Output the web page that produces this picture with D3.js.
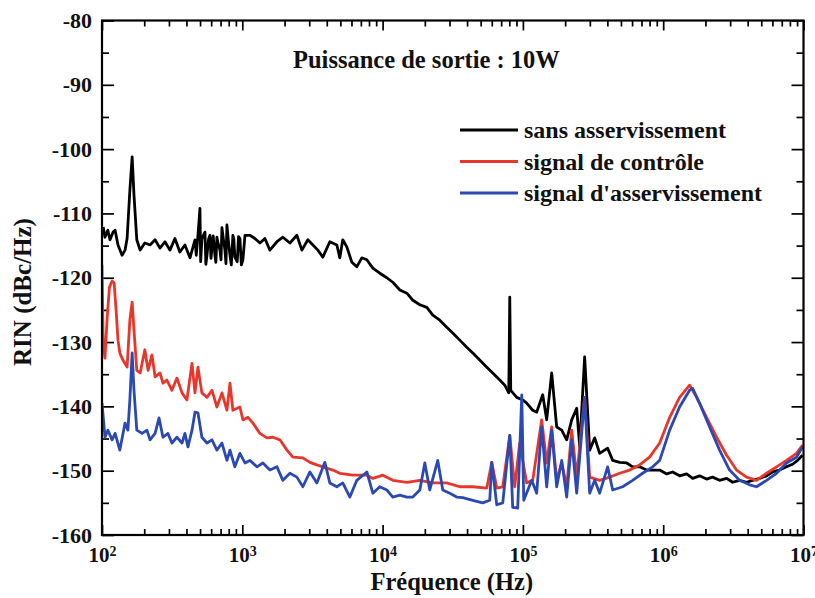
<!DOCTYPE html>
<html>
<head>
<meta charset="utf-8">
<script src="https://cdn.jsdelivr.net/npm/d3@7"></script>
<style>
  body { margin: 0; background: #fff; }
  svg text { font-family: "Liberation Serif", "Times New Roman", serif; font-weight: bold; fill: #111; }
</style>
</head>
<body>
<div id="chart-container"></div>
<script>
// Data: [frequency (Hz), RIN (dBc/Hz)]
const sansAsservissement = [
  [102,-112.1],[105,-113.7],[110,-112.6],[114,-114.1],[120,-112.9],[124,-112.6],[130,-114.9],[139,-116.5],
  [146,-115.7],[151,-113.9],[158,-106.4],[164,-101.2],[169,-107.1],[177,-114.1],[187,-115.7],[202,-114.6],
  [220,-114.9],[239,-114.1],[259,-115.4],[281,-114.4],[305,-115.7],[331,-113.9],[359,-116.0],[390,-114.9],
  [424,-116.9],[460,-114.1],[470,-116.5],[483,-113.4],[499,-109.2],[505,-117.5],[515,-114.1],[525,-113.5],
  [542,-112.9],[550,-117.9],[560,-116.5],[575,-114.0],[588,-113.4],[598,-117.0],[608,-115.4],[620,-113.5],
  [638,-116.5],[648,-117.6],[659,-113.7],[670,-114.5],[693,-115.7],[705,-117.2],[716,-112.2],[730,-113.7],
  [752,-115.7],[765,-117.8],[777,-111.8],[795,-114.2],[817,-116.5],[835,-118.0],[857,-113.4],[870,-114.0],
  [885,-116.8],[920,-117.5],[940,-113.6],[962,-113.9],[985,-118.0],[1010,-117.2],[1045,-113.4],[1132,-113.4],
  [1230,-113.9],[1335,-114.6],[1449,-113.9],[1573,-115.7],[1766,-114.4],[1947,-113.7],[2184,-114.6],[2449,-113.4],
  [2659,-115.7],[2931,-114.1],[3187,-114.9],[3456,-115.7],[3750,-116.8],[4205,-114.4],[4720,-114.9],[4955,-116.9],
  [5203,-114.1],[5558,-115.2],[6040,-117.6],[6547,-118.3],[7110,-116.9],[7720,-117.2],[8517,-118.5],[9550,-119.3],
  [10720,-120.0],[11820,-120.7],[13270,-121.9],[14890,-122.4],[16420,-123.5],[18420,-124.2],[20660,-124.6],
  [22790,-125.8],[25560,-126.6],[28650,-127.7],[31620,-128.6],[35480,-129.7],[39800,-130.8],[43950,-131.7],
  [49230,-132.8],[55270,-133.9],[60960,-134.8],[68410,-135.9],[74300,-136.7],[79300,-137.9],[80610,-123.0],
  [81900,-137.5],[90360,-138.6],[99770,-139.0],[106400,-139.5],[117500,-140.6],[125400,-140.9],[138400,-138.2],
  [147800,-142.1],[160400,-134.8],[174100,-143.2],[189100,-143.7],[205200,-145.2],[222800,-142.1],[241800,-140.3],
  [254100,-146.3],[275500,-132.3],[299200,-146.8],[324900,-144.9],[352400,-147.3],[401800,-146.5],[436500,-148.4],
  [489700,-148.7],[549500,-148.8],[605300,-149.4],[679200,-149.4],[762100,-149.9],[841400,-149.9],[944100,-149.9],
  [1059000,-150.5],[1167000,-150.2],[1309000,-150.8],[1469000,-150.5],[1622000,-151.2],[1816000,-150.8],
  [2037000,-151.3],[2249000,-151.0],[2523000,-151.5],[2831000,-151.2],[3126000,-151.8],[3500000,-151.5],
  [3927000,-151.8],[4337000,-151.5],[4864000,-151.2],[5456000,-150.8],[6010000,-150.2],[6745000,-149.9],
  [7568000,-149.4],[8356000,-149.0],[9080000,-148.4],[9840000,-147.6]
];

const signalControle = [
  [100,-118],[102,-130],[105,-132.5],[109,-126],[113,-121.5],[118,-120.5],[122,-120.8],[126,-125.0],[130,-129.7],
  [134,-131.7],[141,-132.8],[151,-133.9],[158,-126.6],[164,-123.8],[169,-128.1],[177,-134.4],[187,-134.8],
  [202,-131.2],[213,-134.4],[227,-132.0],[239,-135.4],[259,-134.8],[272,-136.4],[290,-135.9],[315,-137.5],
  [342,-135.6],[372,-137.9],[403,-139.0],[438,-133.3],[460,-137.9],[483,-133.9],[515,-137.9],[560,-138.6],
  [608,-137.5],[659,-140.1],[716,-137.9],[777,-140.6],[817,-136.4],[857,-140.6],[962,-140.1],[1010,-142.1],
  [1097,-141.7],[1191,-142.6],[1335,-144.2],[1497,-144.9],[1652,-144.8],[1854,-145.2],[2080,-146.8],[2294,-147.9],
  [2702,-148.0],[3034,-148.7],[3400,-149.1],[3750,-149.4],[4418,-149.9],[4955,-150.4],[6138,-150.7],[7720,-150.7],
  [8517,-151.2],[10040,-150.7],[11820,-151.5],[14890,-151.8],[18420,-151.5],[22790,-151.9],[28650,-151.9],
  [35480,-152.5],[43950,-152.5],[55270,-152.7],[59980,-148.7],[65120,-152.7],[71850,-152.5],[80610,-144.5],
  [87440,-152.5],[94840,-145.7],[106400,-151.9],[117500,-151.5],[136100,-142.1],[147800,-148.8],[160400,-143.2],
  [174100,-151.5],[189100,-148.8],[205200,-152.5],[222800,-143.7],[241800,-151.0],[275500,-138.6],[299200,-151.0],
  [352400,-151.5],[415200,-151.0],[489700,-150.4],[576800,-149.9],[679200,-149.1],[799800,-147.9],[944100,-145.7],
  [1112000,-141.7],[1309000,-138.6],[1542000,-136.7],[1730000,-138.6],[2037000,-141.7],[2403000,-144.8],
  [2831000,-147.6],[3334000,-149.9],[3927000,-151.0],[4624000,-151.5],[5456000,-150.4],[6427000,-149.4],
  [7568000,-148.4],[8918000,-147.3],[9840000,-146.0]
];

const signalAsservissement = [
  [100,-139.5],[105,-144.8],[110,-143.7],[118,-145.2],[124,-144.2],[134,-146.8],[146,-142.6],[153,-143.7],
  [158,-139.0],[164,-131.7],[169,-137.5],[177,-143.7],[193,-144.2],[209,-143.7],[220,-145.2],[239,-144.2],
  [255,-141.8],[272,-144.8],[295,-144.2],[315,-145.7],[342,-144.8],[372,-145.7],[390,-144.2],[410,-146.3],
  [438,-143.7],[460,-140.9],[483,-141.0],[515,-144.8],[560,-145.7],[608,-145.2],[659,-146.8],[716,-145.7],
  [777,-148.4],[817,-146.8],[885,-149.4],[962,-147.3],[1045,-148.8],[1132,-148.4],[1271,-149.4],[1403,-148.8],
  [1573,-149.9],[1766,-149.4],[1947,-151.5],[2184,-150.4],[2449,-151.0],[2702,-152.5],[3034,-150.2],[3400,-151.9],
  [3876,-148.7],[4205,-151.9],[4720,-152.5],[5203,-151.9],[5844,-154.1],[6547,-151.5],[7720,-150.2],[8517,-153.5],
  [9550,-152.5],[10720,-153.0],[11820,-154.1],[13270,-153.8],[14890,-154.1],[16420,-154.1],[18420,-153.0],
  [19990,-148.8],[21690,-153.0],[24730,-148.4],[26850,-153.0],[30110,-153.5],[33780,-154.1],[37270,-154.2],
  [43950,-154.6],[51740,-155.0],[58070,-154.6],[59980,-148.7],[65120,-155.3],[71850,-155.0],[80610,-144.5],
  [84600,-155.7],[91840,-155.8],[98150,-138.2],[101400,-154.6],[115600,-151.5],[125400,-153.5],[136100,-143.2],
  [147800,-152.5],[160400,-143.7],[174100,-152.5],[189100,-148.4],[205200,-154.1],[222800,-145.2],[241800,-153.5],
  [275500,-138.6],[299200,-153.5],[324900,-151.5],[352400,-153.5],[401800,-149.4],[436500,-153.0],[514100,-152.5],
  [605300,-151.5],[713300,-150.4],[841400,-149.4],[944100,-148.4],[1112000,-143.7],[1309000,-140.1],
  [1542000,-137.5],[1622000,-137.2],[1816000,-139.5],[2141000,-143.2],[2523000,-146.8],[2972000,-149.9],
  [3500000,-151.5],[4127000,-152.2],[4624000,-152.5],[5456000,-151.5],[6427000,-150.4],[7568000,-148.8],
  [8918000,-147.9],[9840000,-146.3]
];

const seriesNames = ["sans asservissement", "signal de contrôle", "signal d'asservissement"];
const seriesColors = ["#000000", "#e8362b", "#2b49b3"];
const xDecades = [2, 3, 4, 5, 6, 7];
const yTicks = [-160, -150, -140, -130, -120, -110, -100, -90, -80];
const yMinorTicks = [-155, -145, -135, -125, -115, -105, -95, -85];
const annotation = "Puissance de sortie : 10W";

// Dimensions
const margin = { top: 20.5, right: 11.5, bottom: 63, left: 102 };
const width = 815 - margin.left - margin.right;
const height = 598 - margin.top - margin.bottom;

const x = d3.scaleLog().domain([1e2, 1e7]).range([0, width]);
const y = d3.scaleLinear().domain([-160, -80]).range([height, 0]);

const svg = d3.select("#chart-container")
  .append("svg")
  .attr("width", 815)
  .attr("height", 598)
  .append("g")
  .attr("transform", `translate(${margin.left},${margin.top})`);

// minor tick values on the log axis
const xMajor = xDecades.map(e => Math.pow(10, e));
const xMinor = [];
xDecades.slice(0, -1).forEach(e => {
  for (let k = 2; k <= 9; k++) xMinor.push(k * Math.pow(10, e));
});

function styleAxis(g) {
  g.select(".domain").remove();
  g.selectAll(".tick line").attr("stroke", "#000").attr("stroke-width", 1.7);
}

// bottom axis
svg.append("g")
  .attr("transform", `translate(0,${height})`)
  .call(d3.axisBottom(x).tickValues(xMinor).tickSize(-6).tickFormat(""))
  .call(styleAxis);
const xAxisG = svg.append("g")
  .attr("transform", `translate(0,${height})`)
  .call(d3.axisBottom(x).tickValues(xMajor).tickSize(-10).tickPadding(12).tickFormat(""))
  .call(styleAxis);
xAxisG.selectAll(".tick text")
  .attr("font-size", "21px")
  .attr("dy", "0.71em")
  .each(function (d) {
    const t = d3.select(this);
    t.text("10");
    t.append("tspan").attr("dy", "-0.45em").attr("font-size", "14px").text(Math.round(Math.log10(d)));
  });

// top axis
svg.append("g")
  .call(d3.axisTop(x).tickValues(xMinor).tickSize(-6).tickFormat(""))
  .call(styleAxis);
svg.append("g")
  .call(d3.axisTop(x).tickValues(xMajor).tickSize(-10).tickFormat(""))
  .call(styleAxis);

// left axis
svg.append("g")
  .call(d3.axisLeft(y).tickValues(yMinorTicks).tickSize(-7).tickFormat(""))
  .call(styleAxis);
svg.append("g")
  .call(d3.axisLeft(y).tickValues(yTicks).tickSize(-12).tickPadding(10).tickFormat(d => String(d)))
  .call(styleAxis)
  .selectAll(".tick text")
  .attr("font-size", "22px")
  .attr("fill", "#111");

// right axis
svg.append("g")
  .attr("transform", `translate(${width},0)`)
  .call(d3.axisRight(y).tickValues(yMinorTicks).tickSize(-7).tickFormat(""))
  .call(styleAxis);
svg.append("g")
  .attr("transform", `translate(${width},0)`)
  .call(d3.axisRight(y).tickValues(yTicks).tickSize(-12).tickFormat(""))
  .call(styleAxis);

// clip
svg.append("clipPath").attr("id", "plot-clip")
  .append("rect").attr("width", width).attr("height", height);

const line = d3.line()
  .x(d => x(d[0]))
  .y(d => y(d[1]));

[sansAsservissement, signalControle, signalAsservissement].forEach((data, i) => {
  svg.append("path")
    .datum(data)
    .attr("clip-path", "url(#plot-clip)")
    .attr("fill", "none")
    .attr("stroke", seriesColors[i])
    .attr("stroke-width", 2.8)
    .attr("stroke-linejoin", "round")
    .attr("d", line);
});

// frame
svg.append("rect")
  .attr("width", width)
  .attr("height", height)
  .attr("fill", "none")
  .attr("stroke", "#000")
  .attr("stroke-width", 2.2);

// annotation
svg.append("text")
  .attr("x", 293 - margin.left)
  .attr("y", 68 - margin.top)
  .attr("font-size", "24.5px")
  .text(annotation);

// legend
const legend = svg.append("g")
  .attr("transform", `translate(${460 - margin.left},${130 - margin.top})`);
seriesNames.forEach((name, i) => {
  const row = legend.append("g").attr("transform", `translate(0,${i * 31.5})`);
  row.append("line")
    .attr("x1", 0).attr("x2", 58)
    .attr("stroke", seriesColors[i])
    .attr("stroke-width", 2.8);
  row.append("text")
    .attr("x", 64)
    .attr("dy", "0.35em")
    .attr("font-size", "24px")
    .text(name);
});

// axis titles
svg.append("text")
  .attr("x", width / 2 - 1)
  .attr("y", 590 - margin.top)
  .attr("text-anchor", "middle")
  .attr("font-size", "24.5px")
  .text("Fréquence (Hz)");

svg.append("text")
  .attr("transform", "rotate(-90)")
  .attr("x", -(292 - margin.top))
  .attr("y", 31 - margin.left)
  .attr("text-anchor", "middle")
  .attr("font-size", "25px")
  .text("RIN (dBc/Hz)");
</script>
</body>
</html>
